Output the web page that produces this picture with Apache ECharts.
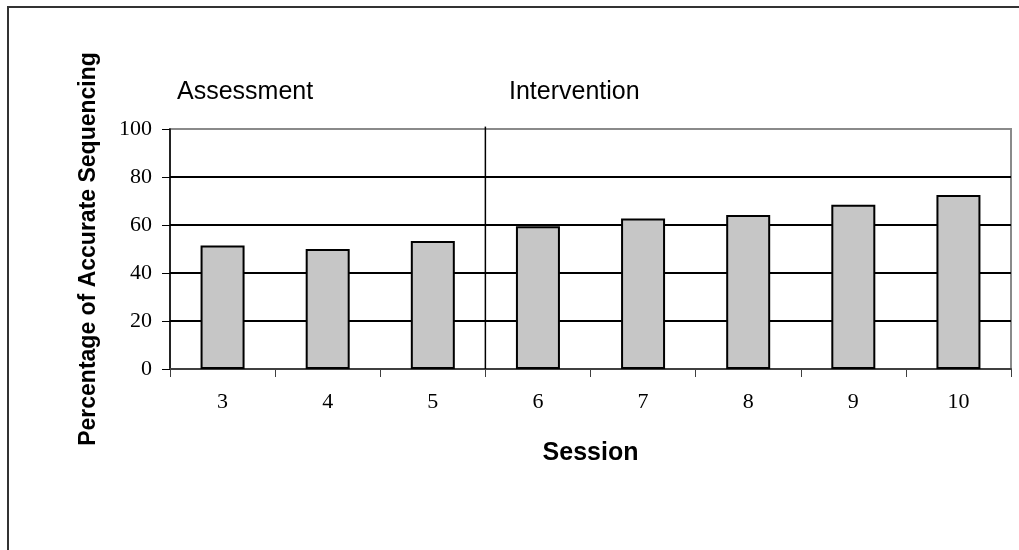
<!DOCTYPE html>
<html>
<head>
<meta charset="utf-8">
<script src="https://cdn.jsdelivr.net/npm/echarts@6/dist/echarts.min.js"></script>
<style>html,body{margin:0;padding:0;background:#fff;}#c{width:1019px;height:550px;}</style>
</head>
<body>
<div id="c"></div>
<script>
const sessions = ['3', '4', '5', '6', '7', '8', '9', '10'];
const accuracy = [51.5, 50, 53.3, 59.5, 62.7, 64.2, 68.4, 72.5];
const yTicks = [0, 20, 40, 60, 80, 100];
const phaseBoundary = 3; // between session 5 and 6 (in category units)
const phaseLabels = ['Assessment', 'Intervention'];

const chart = echarts.init(document.getElementById('c'), null, {renderer: 'canvas'});
const serif = '"Liberation Serif", "Times New Roman", serif';
const sans = '"Liberation Sans", Arial, sans-serif';

chart.setOption({
  animation: false,
  backgroundColor: '#ffffff',
  grid: {left: 170, right: 8, top: 129, bottom: 181, show: true, borderColor: '#8a8a8a', borderWidth: 2, backgroundColor: 'transparent'},
  xAxis: [{
    type: 'category',
    data: sessions,
    boundaryGap: true,
    axisLine: {lineStyle: {color: '#404040', width: 2}},
    axisTick: {show: true, inside: false, length: 8, alignWithLabel: false, lineStyle: {color: '#404040', width: 1}},
    axisLabel: {color: '#000', fontFamily: serif, fontSize: 22, margin: 22},
    name: 'Session',
    nameLocation: 'middle',
    nameGap: 72,
    nameTextStyle: {color: '#000', fontFamily: sans, fontSize: 25, fontWeight: 'bold'}
  }, {
    type: 'value', min: 0, max: sessions.length, show: false
  }],
  yAxis: {
    type: 'value', min: 0, max: 100, interval: 20,
    axisLine: {show: true, lineStyle: {color: '#000', width: 1.5}},
    axisTick: {show: true, inside: false, length: 8, lineStyle: {color: '#000', width: 1}},
    axisLabel: {color: '#000', fontFamily: serif, fontSize: 22, margin: 18,
      formatter: v => yTicks.includes(v) ? String(v) : ''},
    splitLine: {show: true, lineStyle: {color: ['#404040', '#000', '#000', '#000', '#000', '#8a8a8a'], width: 2}},
    name: 'Percentage of Accurate Sequencing',
    nameLocation: 'middle',
    nameGap: 70,
    nameRotate: 90,
    nameTextStyle: {color: '#000', fontFamily: sans, fontSize: 23, fontWeight: 'bold'}
  },
  series: [{
    type: 'bar',
    data: accuracy,
    barWidth: 44,
    itemStyle: {color: '#c6c6c6', borderColor: '#000', borderWidth: 2},
    z: 3
  }, {
    type: 'line',
    xAxisIndex: 1,
    data: [[phaseBoundary, 0], [phaseBoundary, 101]],
    clip: false,
    symbol: 'none',
    lineStyle: {color: '#000', width: 1.5},
    z: 4
  }],
  graphic: [
    {type: 'rect', shape: {x: 8, y: 7, width: 1200, height: 800}, style: {fill: 'none', stroke: '#333', lineWidth: 2}, silent: true},
    {type: 'text', left: 177, top: 80, style: {text: phaseLabels[0], font: '25px ' + sans, fill: '#000'}},
    {type: 'text', left: 509, top: 80, style: {text: phaseLabels[1], font: '25px ' + sans, fill: '#000'}}
  ]
});
</script>
</body>
</html>
